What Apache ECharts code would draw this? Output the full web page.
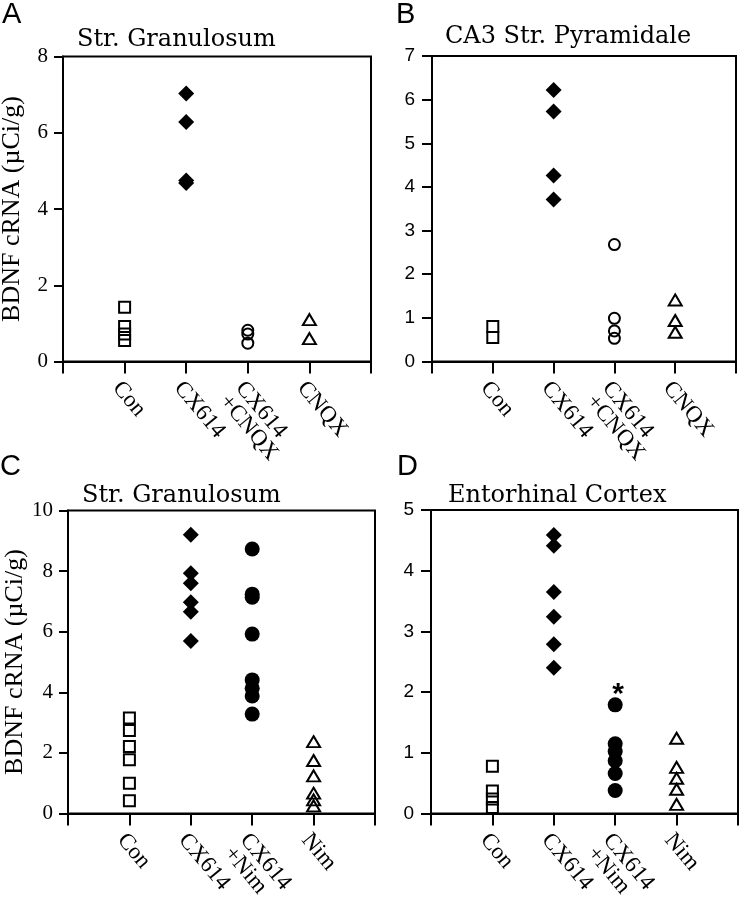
<!DOCTYPE html>
<html><head><meta charset="utf-8">
<script src="https://cdn.jsdelivr.net/npm/echarts@6/dist/echarts.min.js"></script>
<style>html,body{margin:0;padding:0;background:#fff}#c{width:747px;height:899px}</style>
</head><body><div id="c"></div>
<script>
// Category labels (placed at x = 1..4 on a 0..5 value axis)
const catsAB = ['', 'Con', 'CX614', 'CX614\n+CNQX', 'CNQX', ''];
const catsCD = ['', 'Con', 'CX614', 'CX614\n+Nim', 'Nim', ''];
const panelLetters = ['A', 'B', 'C', 'D'];
const panelTitles = ['Str. Granulosum', 'CA3 Str. Pyramidale', 'Str. Granulosum', 'Entorhinal Cortex'];
const yName = 'BDNF cRNA (µCi/g)';
const yMax = [8, 7, 10, 5];
const yStep = [2, 1, 2, 1];
// Panel A
const aCon = [1.42, 0.92, 0.72, 0.55];
const aCX = [7.03, 6.28, 4.75, 4.68];
const aCXCNQX = [0.82, 0.72, 0.48];
const aCNQX = [1.1, 0.6];
// Panel B
const bCon = [0.8, 0.55];
const bCX = [6.22, 5.73, 4.26, 3.71];
const bCXCNQX = [2.68, 0.99, 0.70, 0.53];
const bCNQX = [1.41, 0.94, 0.67];
// Panel C
const cCon = [3.15, 2.74, 2.21, 1.77, 1.0, 0.42];
const cCX = [9.2, 7.93, 7.6, 6.97, 6.66, 5.69];
const cCXNim = [8.73, 7.24, 7.14, 5.92, 4.41, 4.13, 3.88, 3.28];
const cNim = [2.37, 1.75, 1.24, 0.67, 0.45, 0.25];
// Panel D
const dCon = [0.78, 0.37, 0.24, 0.1];
const dCX = [4.59, 4.41, 3.65, 3.24, 2.79, 2.40];
const dCXNim = [1.79, 1.15, 1.02, 0.87, 0.66, 0.38];
const dNim = [1.24, 0.76, 0.58, 0.4, 0.15];
const dStarIndex = 0; // significance marker on dCXNim[0]

const panels = [
  { cats: catsAB, groups: [aCon, aCX, aCXCNQX, aCNQX], serif: true, yname: true },
  { cats: catsAB, groups: [bCon, bCX, bCXCNQX, bCNQX], serif: false, yname: false },
  { cats: catsCD, groups: [cCon, cCX, cCXNim, cNim], serif: true, yname: true },
  { cats: catsCD, groups: [dCon, dCX, dCXNim, dNim], serif: false, yname: false }
];

const grids = [
  { left: 63, top: 56.5, width: 308, height: 305 },
  { left: 432, top: 56, width: 304, height: 305.5 },
  { left: 68, top: 510.5, width: 307, height: 303 },
  { left: 431, top: 510, width: 307, height: 303.5 }
];

const SERIF = '"Liberation Serif", "Times New Roman", serif';
const WSERIF = '"DejaVu Serif", serif';
const SANS = '"Liberation Sans", Arial, sans-serif';
const openStyle = { color: 'rgba(0,0,0,0)', borderColor: '#000', borderWidth: 2, opacity: 1 };
const fillStyle = { color: '#000', opacity: 1 };
const markers = [
  { symbol: 'rect', size: 11, style: openStyle },
  { symbol: 'diamond', size: 16, style: fillStyle },
  null, // circle, open for AB, filled for CD
  { symbol: 'triangle', size: [13, 11], style: openStyle }
];

const option = {
  animation: false,
  backgroundColor: '#fff',
  grid: grids.map(g => Object.assign({ show: true, borderColor: '#000', borderWidth: 2,
    backgroundColor: 'transparent', containLabel: false, outerBoundsMode: 'none' }, g)),
  xAxis: panels.map((p, i) => ({
    type: 'value', gridIndex: i, min: 0, max: 5, interval: 1,
    axisLine: { show: true, lineStyle: { color: '#000', width: 2 } },
    axisTick: { show: true, inside: false, length: 12, lineStyle: { color: '#000', width: 2 } },
    splitLine: { show: false },
    axisLabel: {
      show: true, rotate: -50, margin: 16, color: '#000',
      align: 'left', verticalAlign: 'top', hideOverlap: false,
      fontFamily: SERIF, fontSize: 23, lineHeight: 21,
      formatter: v => p.cats[Math.round(v)] || ''
    }
  })),
  yAxis: panels.map((p, i) => ({
    type: 'value', gridIndex: i, min: 0, max: yMax[i], interval: yStep[i],
    name: p.yname ? yName : '', nameLocation: 'middle', nameGap: 38,
    nameTextStyle: { fontFamily: SERIF, fontSize: 26, color: '#000' },
    axisLine: { show: true, lineStyle: { color: '#000', width: 2 } },
    axisTick: { show: true, inside: false, length: p.serif ? 9 : 10, lineStyle: { color: '#000', width: 2 } },
    splitLine: { show: false },
    axisLabel: {
      show: true, margin: p.serif ? 15 : 17, color: '#000',
      fontFamily: p.serif ? SERIF : SANS, fontSize: p.serif ? 21 : 19
    }
  })),
  series: [],
  graphic: []
};

panels.forEach((p, i) => {
  p.groups.forEach((vals, gi) => {
    let m = markers[gi];
    if (gi === 2) {
      m = i < 2 ? { symbol: 'circle', size: 11, style: openStyle } : { symbol: 'circle', size: 15, style: fillStyle };
    }
    const data = vals.map((v, k) => {
      const item = { value: [gi + 1, v] };
      if (i === 3 && gi === 2 && k === dStarIndex) {
        item.label = { show: true, formatter: '*', position: 'top', distance: -12, offset: [3, 0],
          fontSize: 30, fontWeight: 'bold', fontFamily: SANS, color: '#000' };
      }
      return item;
    });
    option.series.push({
      type: 'scatter', xAxisIndex: i, yAxisIndex: i,
      symbol: m.symbol, symbolSize: m.size, itemStyle: m.style,
      emphasis: { disabled: true },
      data: data, z: gi === 1 || (gi === 2 && i >= 2) ? 3 : 2
    });
  });
});

const letterPos = [[2, 0], [396, 0], [0, 452], [397, 452]];
const titlePos = [[77, 28], [445, 25], [82, 484], [448, 484]];
panelLetters.forEach((L, i) => {
  option.graphic.push({ type: 'text', left: letterPos[i][0], top: letterPos[i][1],
    style: { text: L, font: '29px ' + SANS, fill: '#000' } });
  option.graphic.push({ type: 'text', left: titlePos[i][0], top: titlePos[i][1],
    style: { text: panelTitles[i], font: '24px ' + WSERIF, fill: '#000' } });
});

const chart = echarts.init(document.getElementById('c'), null, { renderer: 'canvas' });
chart.setOption(option);
</script>
</body></html>
